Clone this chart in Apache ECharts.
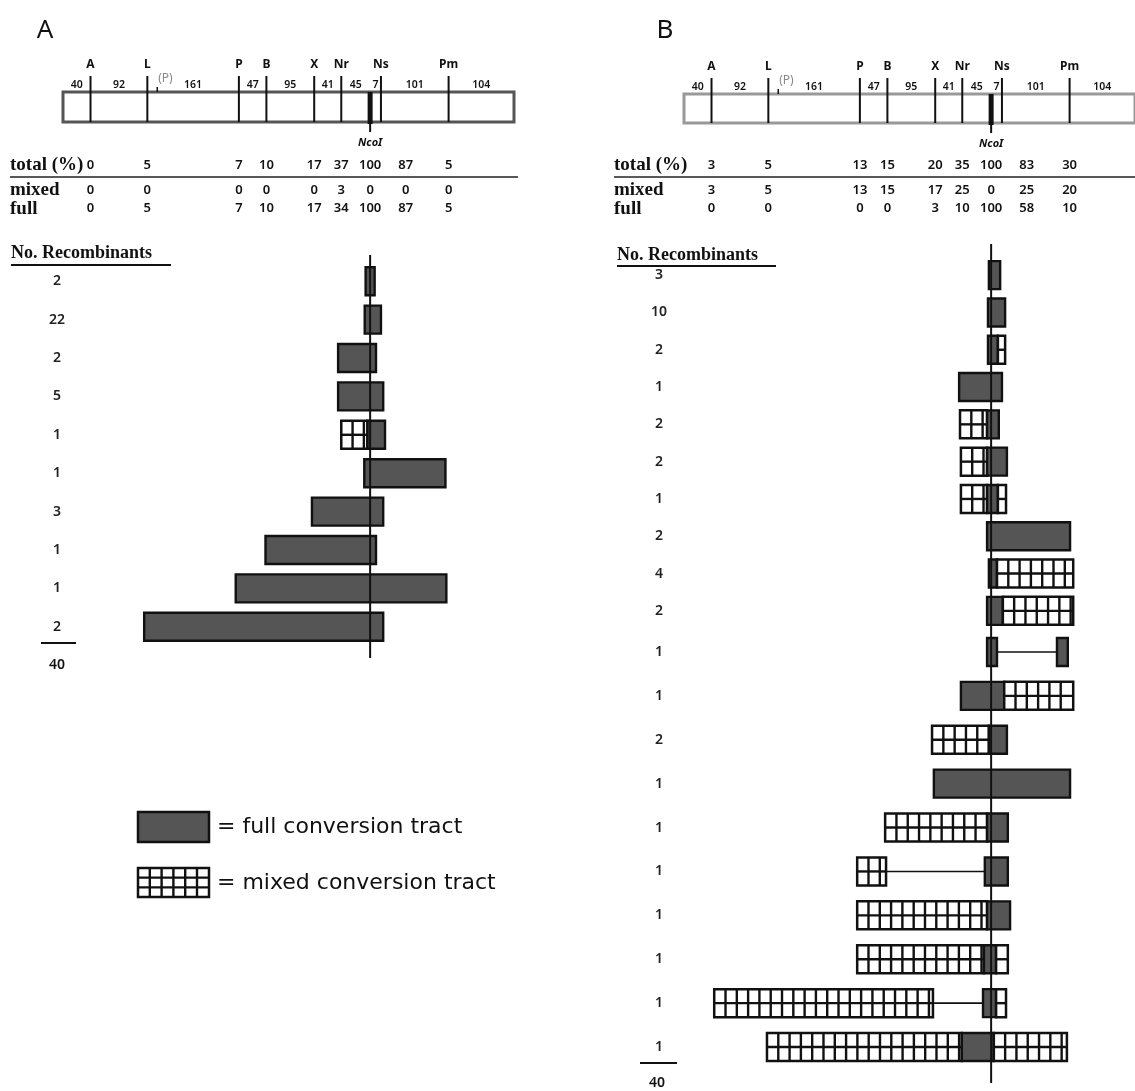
<!DOCTYPE html>
<html>
<head>
<meta charset="utf-8">
<script src="https://cdn.jsdelivr.net/npm/echarts@6/dist/echarts.min.js"></script>
<style>
  html, body { margin: 0; padding: 0; background: #fff; }
  #chart { width: 1135px; height: 1091px; }
</style>
</head>
<body>
<div id="chart"></div>
<script>
// restriction map, positions in % of the drawn map length
const siteNames = ['A', 'L', 'P', 'B', 'X', 'Nr', 'Ns', 'Pm']
const sitePos = [6.1, 18.7, 39.0, 45.1, 55.7, 61.7, 70.5, 85.5]
const ncoPos = 68.1
const pPos = 20.9
const segLengths = [40, 92, 161, 47, 95, 41, 45, 7, 101, 104]

// marker conversion (%), columns A L P B X Nr NcoI Ns Pm
const totalA = [0, 5, 7, 10, 17, 37, 100, 87, 5]
const mixedA = [0, 0, 0, 0, 0, 3, 0, 0, 0]
const fullA = [0, 5, 7, 10, 17, 34, 100, 87, 5]
const totalB = [3, 5, 13, 15, 20, 35, 100, 83, 30]
const mixedB = [3, 5, 13, 15, 17, 25, 0, 25, 20]
const fullB = [0, 0, 0, 0, 3, 10, 100, 58, 10]

// recombinant classes
const countsA = [2, 22, 2, 5, 1, 1, 3, 1, 1, 2]
const countsB = [3, 10, 2, 1, 2, 2, 1, 2, 4, 2, 1, 1, 2, 1, 1, 1, 1, 1, 1, 1]

// tracts per class: [start, end, kind] in map %
const tractsA = [
  [[67.1, 69.1, 'full']],
  [[66.9, 70.5, 'full']],
  [[61.0, 69.4, 'full']],
  [[61.0, 71.0, 'full']],
  [[61.7, 67.5, 'mixed'], [67.5, 71.4, 'full']],
  [[66.8, 84.8, 'full']],
  [[55.2, 71.0, 'full']],
  [[44.9, 69.4, 'full']],
  [[38.3, 85.0, 'full']],
  [[18.0, 71.0, 'full']]
]
const tractsB = [
  [[67.6, 70.1, 'full']],
  [[67.4, 71.2, 'full']],
  [[67.4, 69.6, 'full'], [69.6, 71.2, 'mixed']],
  [[61.0, 70.5, 'full']],
  [[61.2, 67.2, 'mixed'], [67.2, 69.8, 'full']],
  [[61.4, 67.2, 'mixed'], [67.2, 71.6, 'full']],
  [[61.4, 67.2, 'mixed'], [67.2, 69.6, 'full'], [69.6, 71.4, 'mixed']],
  [[67.2, 85.6, 'full']],
  [[67.6, 69.4, 'full'], [69.4, 86.3, 'mixed']],
  [[67.2, 70.7, 'full'], [70.7, 86.3, 'mixed']],
  [[69.4, 82.7, 'gap'], [67.2, 69.4, 'full'], [82.7, 85.1, 'full']],
  [[61.4, 71.0, 'full'], [71.0, 86.3, 'mixed']],
  [[55.0, 67.6, 'mixed'], [67.6, 71.6, 'full']],
  [[55.4, 85.6, 'full']],
  [[44.6, 67.2, 'mixed'], [67.2, 71.8, 'full']],
  [[44.8, 66.7, 'gap'], [38.4, 44.8, 'mixed'], [66.7, 71.8, 'full']],
  [[38.4, 67.2, 'mixed'], [67.2, 72.3, 'full']],
  [[38.4, 66.5, 'mixed'], [66.5, 69.2, 'full'], [69.2, 71.8, 'mixed']],
  [[55.2, 66.3, 'gap'], [6.7, 55.2, 'mixed'], [66.3, 69.2, 'full'], [69.2, 71.4, 'mixed']],
  [[18.4, 61.6, 'mixed'], [61.6, 68.7, 'full'], [68.7, 84.9, 'mixed']]
]

const SANS = '"Noto Sans", "DejaVu Sans", sans-serif'
const WIDE = '"DejaVu Sans", sans-serif'
const SERIF = '"Liberation Serif", "DejaVu Serif", serif'
const BAR_H = 28
const CELL = 11.3
const KIND = { full: 0, mixed: 1, gap: 2 }
const TABLE_Y = [165, 190, 208]
const colPos = sitePos.slice(0, 6).concat([ncoPos, sitePos[6] + 5.5, sitePos[7]])
const bounds = [0].concat(sitePos.slice(0, 6), [ncoPos], sitePos.slice(6), [100])

function txt (text, x, y, font, align, fill) {
  const a = align || 'center'
  return {
    type: 'text',
    style: {
      text: String(text), x: x, y: y, font: font, fill: fill || '#111',
      align: a, verticalAlign: 'middle', textAlign: a, textVerticalAlign: 'middle'
    }
  }
}

function tractData (rows) {
  const out = []
  rows.forEach((segs, r) => segs.forEach(s => out.push([r, s[0], s[1], KIND[s[2]]])))
  return out
}

// white box crossed by a black grid (mixed tract)
function mixedBox (x, y, w, h, rowsN, cell) {
  const ch = [{ type: 'rect', shape: { x: x, y: y, width: w, height: h }, style: { fill: '#fff', stroke: '#111', lineWidth: 2.5 } }]
  for (let cx = x + cell; cx < x + w - 1.5; cx += cell) {
    ch.push({ type: 'line', shape: { x1: cx, y1: y, x2: cx, y2: y + h }, style: { stroke: '#111', lineWidth: 2.4 } })
  }
  for (let k = 1; k < rowsN; k++) {
    const cy = y + h * k / rowsN
    ch.push({ type: 'line', shape: { x1: x, y1: cy, x2: x + w, y2: cy }, style: { stroke: '#111', lineWidth: 2.4 } })
  }
  return ch
}

function renderTract (params, api) {
  const r = api.value(0)
  const p0 = api.coord([api.value(1), r])
  const p1 = api.coord([api.value(2), r])
  const kind = api.value(3)
  const x = p0[0]
  const w = p1[0] - p0[0]
  const y = p0[1] - BAR_H / 2
  if (kind === KIND.gap) {
    return { type: 'line', shape: { x1: x, y1: p0[1], x2: p1[0], y2: p0[1] }, style: { stroke: '#111', lineWidth: 1.6 } }
  }
  if (kind === KIND.full) {
    return { type: 'rect', shape: { x: x, y: y, width: w, height: BAR_H }, style: { fill: '#555', stroke: '#111', lineWidth: 2.4 } }
  }
  return { type: 'group', children: mixedBox(x, y, w, BAR_H, 2, CELL) }
}

function ncoLine (top, bottom) {
  return function (params, api) {
    const cs = params.coordSys
    const x = api.coord([api.value(0), 0])[0]
    return { type: 'line', shape: { x1: x, y1: cs.y - top, x2: x, y2: cs.y + cs.height + bottom }, style: { stroke: '#111', lineWidth: 2 } }
  }
}

function mapSeries (axis, rectColor, total, mixed, full) {
  const list = []
  list.push({
    type: 'custom', xAxisIndex: axis, yAxisIndex: axis, data: [[0, 0, 100, 1]],
    renderItem: function (params, api) {
      const a = api.coord([api.value(0), api.value(1)])
      const b = api.coord([api.value(2), api.value(3)])
      return { type: 'rect', shape: { x: a[0], y: a[1], width: b[0] - a[0], height: b[1] - a[1] }, style: { fill: 'none', stroke: rectColor, lineWidth: 3 } }
    }
  })
  list.push({
    type: 'custom', xAxisIndex: axis, yAxisIndex: axis, z: 3,
    data: sitePos.map((p, i) => [p, 0, i]),
    renderItem: function (params, api) {
      const top = api.coord([api.value(0), 0])
      const bot = api.coord([api.value(0), 1])
      return {
        type: 'group',
        children: [
          { type: 'line', shape: { x1: top[0], y1: top[1] - 16, x2: bot[0], y2: bot[1] }, style: { stroke: '#111', lineWidth: 2 } },
          txt(siteNames[api.value(2)], top[0], top[1] - 27, 'bold 12px ' + SANS)
        ]
      }
    }
  })
  list.push({
    type: 'custom', xAxisIndex: axis, yAxisIndex: axis,
    data: segLengths.map((len, i) => [(bounds[i] + bounds[i + 1]) / 2, 0, len]),
    renderItem: function (params, api) {
      const p = api.coord([api.value(0), 0])
      return txt(api.value(2), p[0], p[1] - 7, '600 10.5px ' + SANS)
    }
  })
  list.push({
    type: 'custom', xAxisIndex: axis, yAxisIndex: axis, z: 4, data: [[ncoPos, pPos]],
    renderItem: function (params, api) {
      const top = api.coord([api.value(0), 0])
      const bot = api.coord([api.value(0), 1])
      const pt = api.coord([api.value(1), 0])
      return {
        type: 'group',
        children: [
          { type: 'rect', shape: { x: top[0] - 2.5, y: top[1], width: 5, height: bot[1] - top[1] + 2 }, style: { fill: '#111' } },
          { type: 'line', shape: { x1: bot[0], y1: bot[1], x2: bot[0], y2: bot[1] + 10 }, style: { stroke: '#111', lineWidth: 2 } },
          txt('NcoI', bot[0], bot[1] + 21, 'italic bold 11px ' + SANS),
          { type: 'line', shape: { x1: pt[0], y1: pt[1] - 5, x2: pt[0], y2: pt[1] }, style: { stroke: '#111', lineWidth: 1.5 } },
          txt('(P)', pt[0] + 1, pt[1] - 13, '12px ' + SANS, 'left', '#888')
        ]
      }
    }
  })
  const cells = []
  ;[total, mixed, full].forEach((arr, r) => arr.forEach((v, j) => cells.push([colPos[j], 0, r, v])))
  list.push({
    type: 'custom', xAxisIndex: axis, yAxisIndex: axis, data: cells,
    renderItem: function (params, api) {
      const p = api.coord([api.value(0), 0])
      return txt(api.value(3), p[0], TABLE_Y[api.value(2)], '600 13px ' + SANS)
    }
  })
  return list
}

function catAxis (grid, counts, offset, margin) {
  return {
    gridIndex: grid, type: 'category', inverse: true,
    data: counts.map((c, i) => String(i + offset)),
    axisLine: { show: false }, axisTick: { show: false }, splitLine: { show: false },
    axisLabel: {
      interval: 0, align: 'center', margin: margin, fontSize: 14, fontWeight: 600,
      fontFamily: SANS, color: '#222',
      formatter: function (v) { return String(counts[+v - offset]) }
    }
  }
}

const sum = arr => arr.reduce((a, b) => a + b, 0)

const graphics = [
  txt('A', 45, 31, '26px ' + SANS),
  txt('B', 665, 31, '26px ' + SANS)
]
;[[10, 518], [614, 1135]].forEach(function (p) {
  const lx = p[0]
  graphics.push(txt('total (%)', lx, 165, 'bold 19px ' + SERIF, 'left'))
  graphics.push(txt('mixed', lx, 190, 'bold 19px ' + SERIF, 'left'))
  graphics.push(txt('full', lx, 209, 'bold 19px ' + SERIF, 'left'))
  graphics.push({ type: 'line', shape: { x1: lx, y1: 177, x2: p[1], y2: 177 }, style: { stroke: '#222', lineWidth: 1.5 } })
})
graphics.push(txt('No. Recombinants', 11, 253, 'bold 18px ' + SERIF, 'left'))
graphics.push({ type: 'line', shape: { x1: 11, y1: 265, x2: 171, y2: 265 }, style: { stroke: '#111', lineWidth: 2 } })
graphics.push(txt('No. Recombinants', 617, 255, 'bold 18px ' + SERIF, 'left'))
graphics.push({ type: 'line', shape: { x1: 617, y1: 266, x2: 776, y2: 266 }, style: { stroke: '#111', lineWidth: 2 } })
graphics.push({ type: 'line', shape: { x1: 41, y1: 643, x2: 76, y2: 643 }, style: { stroke: '#111', lineWidth: 2 } })
graphics.push(txt(sum(countsA), 57, 665, '600 14px ' + SANS))
graphics.push({ type: 'line', shape: { x1: 640, y1: 1063, x2: 677, y2: 1063 }, style: { stroke: '#111', lineWidth: 2 } })
graphics.push(txt(sum(countsB), 657, 1083, '600 14px ' + SANS))
// legend
graphics.push({ type: 'rect', shape: { x: 138, y: 812, width: 71, height: 30 }, style: { fill: '#555', stroke: '#111', lineWidth: 2.5 } })
graphics.push(txt('= full conversion tract', 217, 827, '22px ' + WIDE, 'left'))
graphics.push({ type: 'group', children: mixedBox(138, 868, 71, 29, 3, 11.8) })
graphics.push(txt('= mixed conversion tract', 217, 883, '22px ' + WIDE, 'left'))

const option = {
  animation: false,
  backgroundColor: '#fff',
  grid: [
    { left: 63, top: 92, width: 451, height: 30 },
    { left: 63, top: 262, width: 451, height: 384 },
    { left: 684, top: 94, width: 451, height: 29 },
    { left: 684, top: 256.5, width: 451, height: 373 },
    { left: 684, top: 630, width: 451, height: 439 }
  ],
  xAxis: [0, 1, 2, 3, 4].map(g => ({ gridIndex: g, type: 'value', min: 0, max: 100, show: false })),
  yAxis: [
    { gridIndex: 0, type: 'value', min: 0, max: 1, inverse: true, show: false },
    catAxis(1, countsA, 0, 6),
    { gridIndex: 2, type: 'value', min: 0, max: 1, inverse: true, show: false },
    catAxis(3, countsB.slice(0, 10), 0, 25),
    catAxis(4, countsB.slice(10), 10, 25)
  ],
  graphic: { elements: graphics },
  series: [].concat(
    mapSeries(0, '#555', totalA, mixedA, fullA),
    mapSeries(2, '#999', totalB, mixedB, fullB),
    [
      { type: 'custom', xAxisIndex: 1, yAxisIndex: 1, data: tractData(tractsA), encode: { y: 0, x: [1, 2] }, renderItem: renderTract },
      { type: 'custom', xAxisIndex: 3, yAxisIndex: 3, data: tractData(tractsB.slice(0, 10)), encode: { y: 0, x: [1, 2] }, renderItem: renderTract },
      { type: 'custom', xAxisIndex: 4, yAxisIndex: 4, data: tractData(tractsB.slice(10)), encode: { y: 0, x: [1, 2] }, renderItem: renderTract },
      { type: 'custom', xAxisIndex: 1, yAxisIndex: 1, z: 5, data: [[ncoPos, 0]], encode: { x: 0, y: 1 }, renderItem: ncoLine(7, 12) },
      { type: 'custom', xAxisIndex: 3, yAxisIndex: 3, z: 5, data: [[ncoPos, 0]], encode: { x: 0, y: 1 }, renderItem: ncoLine(12.5, 0.5) },
      { type: 'custom', xAxisIndex: 4, yAxisIndex: 4, z: 5, data: [[ncoPos, 0]], encode: { x: 0, y: 1 }, renderItem: ncoLine(0.5, 14) }
    ]
  )
}

const chart = echarts.init(document.getElementById('chart'))
chart.setOption(option)
</script>
</body>
</html>
